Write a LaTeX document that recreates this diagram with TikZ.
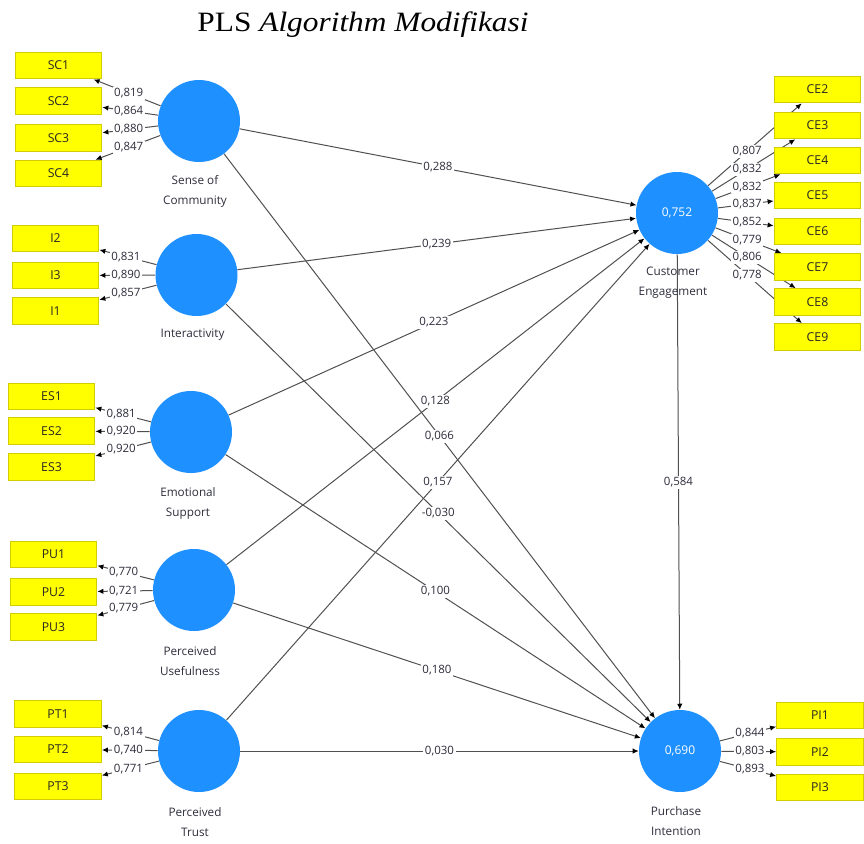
\documentclass[tikz,border=0pt]{standalone}
\usepackage{fontspec}
\setmainfont{Liberation Serif}
\newfontfamily\uifont{Open Sans}
\usetikzlibrary{arrows.meta,calc}
\pgfdeclarelayer{bg}
\pgfsetlayers{bg,main}
\definecolor{lvblue}{RGB}{30,144,255}
\definecolor{indyellow}{RGB}{255,255,0}
\definecolor{indborder}{RGB}{210,205,0}
\definecolor{linegray}{RGB}{80,80,80}
\definecolor{txtgray}{RGB}{45,45,60}
\tikzset{
  lv/.style={circle, fill=lvblue, minimum size=61.5pt, inner sep=0pt, text=white, font=\uifont\fontsize{9}{10}\selectfont},
  ind/.style={rectangle, fill=indyellow, draw=indborder, line width=0.8pt, minimum width=65pt, minimum height=20pt, inner sep=0pt, text=black!85, font=\uifont\fontsize{9.2}{10}\selectfont},
  lbl/.style={fill=white, inner sep=1.2pt, text=txtgray, font=\uifont\fontsize{8.6}{9}\selectfont},
  clab/.style={align=center, text=txtgray, font=\uifont\fontsize{8.8}{15}\selectfont},
  conn/.style={draw=linegray, line width=0.75pt, -{Latex[length=4.5pt,width=4pt,color=black]}},
}
\newcommand\loadlab[3]{\node[lbl] (lab-#2) at ($(#1.center)!0.5!(#2.center)$) {#3};}
\begin{document}
\begin{tikzpicture}[x=0.75pt,y=-0.75pt]
\useasboundingbox (0,0) rectangle (864,843);
% title
\node (title) at (363,25) {\scalebox{1.12}[1]{\fontsize{21}{23}\selectfont PLS \textit{Algorithm Modifikasi}}};
% latent variables
\node[lv] (sc) at (199,121) {};
\node[lv] (in) at (196.5,275) {};
\node[lv] (es) at (191,432) {};
\node[lv] (pu) at (194,590) {};
\node[lv] (pt) at (199,751) {};
\node[lv] (ce) at (677,213) {0,752};
\node[lv] (pi) at (680,751) {0,690};
% construct labels
\node[clab] (sc-t) at ($(sc)+(-4,70)$) {Sense of\\Community};
\node[clab] (in-t) at ($(in)+(-4,60)$) {Interactivity};
\node[clab] (es-t) at ($(es)+(-3,71)$) {Emotional\\Support};
\node[clab] (pu-t) at ($(pu)+(-4,71)$) {Perceived\\Usefulness};
\node[clab] (pt-t) at ($(pt)+(-4,71)$) {Perceived\\Trust};
\node[clab] (ce-t) at ($(ce)+(-4,70)$) {Customer\\Engagement};
\node[clab] (pi-t) at ($(pi)+(-4,70)$) {Purchase\\Intention};
% indicators
\node[ind] (SC1) at (58.5,65.5) {SC1};
\node[ind] (SC2) at (58.5,101) {SC2};
\node[ind] (SC3) at (58.5,138) {SC3};
\node[ind] (SC4) at (58.5,173.5) {SC4};
\node[ind] (I2) at (55.5,238.5) {I2};
\node[ind] (I3) at (55.5,275.5) {I3};
\node[ind] (I1) at (55.5,311) {I1};
\node[ind] (ES1) at (51.5,396.5) {ES1};
\node[ind] (ES2) at (51.5,431) {ES2};
\node[ind] (ES3) at (51.5,467) {ES3};
\node[ind] (PU1) at (53.5,554.5) {PU1};
\node[ind] (PU2) at (53.5,592) {PU2};
\node[ind] (PU3) at (53.5,627) {PU3};
\node[ind] (PT1) at (58,714) {PT1};
\node[ind] (PT2) at (58,749.5) {PT2};
\node[ind] (PT3) at (58,786.5) {PT3};
\node[ind] (CE2) at (817.5,89.5) {CE2};
\node[ind] (CE3) at (817.5,125.5) {CE3};
\node[ind] (CE4) at (817.5,160.5) {CE4};
\node[ind] (CE5) at (817.5,195.5) {CE5};
\node[ind] (CE6) at (817.5,231.5) {CE6};
\node[ind] (CE7) at (817.5,267) {CE7};
\node[ind] (CE8) at (817.5,302) {CE8};
\node[ind] (CE9) at (817.5,337) {CE9};
\node[ind] (PI1) at (820,715.5) {PI1};
\node[ind] (PI2) at (820,752) {PI2};
\node[ind] (PI3) at (820,787.5) {PI3};
% connectors
\begin{pgfonlayer}{bg}
\foreach \a/\b in {sc/SC1,sc/SC2,sc/SC3,sc/SC4,in/I2,in/I3,in/I1,es/ES1,es/ES2,es/ES3,
  pu/PU1,pu/PU2,pu/PU3,pt/PT1,pt/PT2,pt/PT3,ce/CE2,ce/CE3,ce/CE4,ce/CE5,ce/CE6,ce/CE7,ce/CE8,ce/CE9,
  pi/PI1,pi/PI2,pi/PI3,sc/ce,in/ce,es/ce,pu/ce,pt/ce,sc/pi,in/pi,es/pi,pu/pi,pt/pi,ce/pi}
  \draw[conn] (\a) -- (\b);
\end{pgfonlayer}
% loading labels
\loadlab{sc}{SC1}{0,819}
\loadlab{sc}{SC2}{0,864}
\loadlab{sc}{SC3}{0,880}
\loadlab{sc}{SC4}{0,847}
\loadlab{in}{I2}{0,831}
\loadlab{in}{I3}{0,890}
\loadlab{in}{I1}{0,857}
\loadlab{es}{ES1}{0,881}
\loadlab{es}{ES2}{0,920}
\loadlab{es}{ES3}{0,920}
\loadlab{pu}{PU1}{0,770}
\loadlab{pu}{PU2}{0,721}
\loadlab{pu}{PU3}{0,779}
\loadlab{pt}{PT1}{0,814}
\loadlab{pt}{PT2}{0,740}
\loadlab{pt}{PT3}{0,771}
\loadlab{ce}{CE2}{0,807}
\loadlab{ce}{CE3}{0,832}
\loadlab{ce}{CE4}{0,832}
\loadlab{ce}{CE5}{0,837}
\loadlab{ce}{CE6}{0,852}
\loadlab{ce}{CE7}{0,779}
\loadlab{ce}{CE8}{0,806}
\loadlab{ce}{CE9}{0,778}
\loadlab{pi}{PI1}{0,844}
\loadlab{pi}{PI2}{0,803}
\loadlab{pi}{PI3}{0,893}
% path coefficients
\loadlab{sc}{ce}{0,288}
\loadlab{in}{ce}{0,239}
\loadlab{es}{ce}{0,223}
\loadlab{pu}{ce}{0,128}
\loadlab{pt}{ce}{0,157}
\loadlab{sc}{pi}{0,066}
\loadlab{in}{pi}{-0,030}
\loadlab{es}{pi}{0,100}
\loadlab{pu}{pi}{0,180}
\loadlab{pt}{pi}{0,030}
\loadlab{ce}{pi}{0,584}
\end{tikzpicture}
\end{document}
